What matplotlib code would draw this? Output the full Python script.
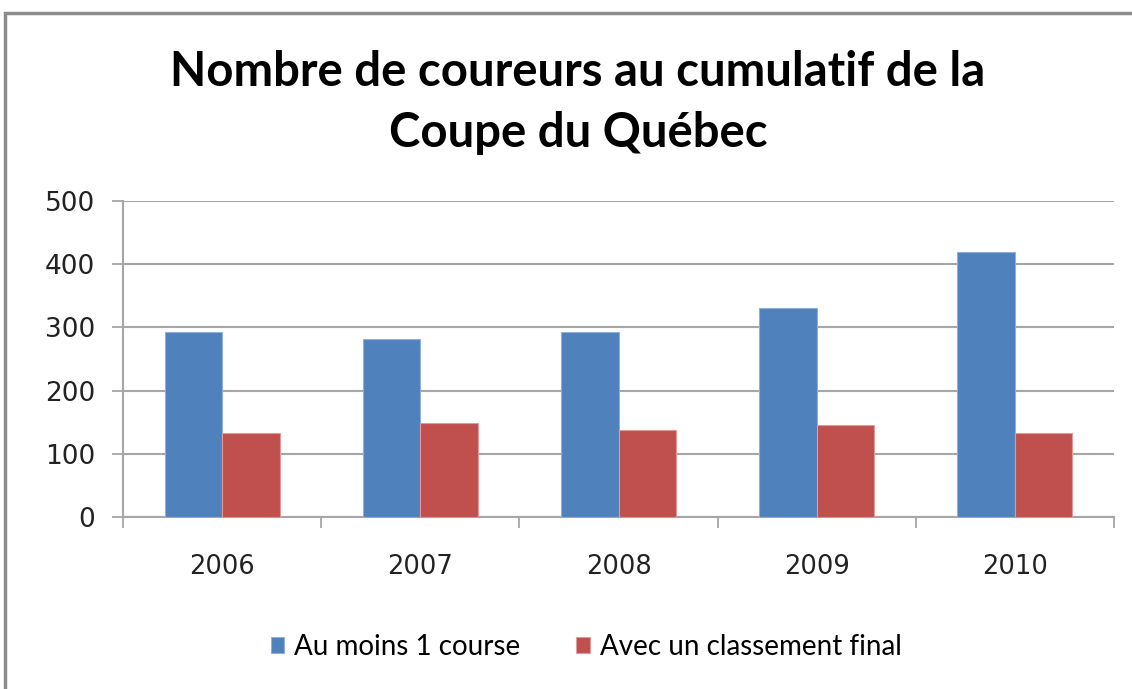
import matplotlib
matplotlib.use("Agg")
import matplotlib.pyplot as plt
from matplotlib.patches import Rectangle
import numpy as np

years = ["2006", "2007", "2008", "2009", "2010"]
au_moins_1 = [293, 281, 293, 330, 419]
classement_final = [133, 148, 137, 146, 133]
series_labels = ["Au moins 1 course", "Avec un classement final"]
yticks = [0, 100, 200, 300, 400, 500]

blue = "#4F81BD"
red = "#C0504D"
grid_c = "#A6A6A6"

W, H = 1132, 689
fig = plt.figure(figsize=(W / 100, H / 100), dpi=100)
ax = fig.add_axes([123 / W, 1 - 517 / H, (1114 - 123) / W, (517 - 201) / H])

x = np.arange(len(years))
bw = 0.29
ax.bar(x - bw / 2, au_moins_1, width=bw, color=blue, edgecolor="#8FB0DA", linewidth=0.8,
       label=series_labels[0], zorder=3)
ax.bar(x + bw / 2, classement_final, width=bw, color=red, edgecolor="#E29A98", linewidth=0.8,
       label=series_labels[1], zorder=3)

ax.set_xlim(-0.5, len(years) - 0.5)
ax.set_ylim(0, 500)
ax.set_yticks(yticks)
ax.set_yticklabels([str(v) for v in yticks], fontsize=19, family="DejaVu Sans", color="#222222")
ax.set_xticks(x)
ax.set_xticklabels(years, fontsize=18.5, family="DejaVu Sans", color="#222222")
ax.set_xticks(np.arange(-0.5, len(years)), minor=True)
ax.tick_params(axis="x", which="major", length=0, pad=27)
ax.tick_params(axis="x", which="minor", length=8, width=1.3, color=grid_c, direction="out")
ax.tick_params(axis="y", length=8, width=1.3, color=grid_c, pad=12)

ax.yaxis.grid(True, color=grid_c, linewidth=1.5, zorder=0)
ax.set_axisbelow(True)
for s in ["top", "right"]:
    ax.spines[s].set_visible(False)
for s in ["left", "bottom"]:
    ax.spines[s].set_color(grid_c)
    ax.spines[s].set_linewidth(1.5)

fig.text(578 / W, 1 - 72 / H, "Nombre de coureurs au cumulatif de la",
         ha="center", va="center", fontsize=34, fontweight="bold", family="Lato")
fig.text(578 / W, 1 - 133 / H, "Coupe du Québec",
         ha="center", va="center", fontsize=34, fontweight="bold", family="Lato")

leg = fig.legend(loc="center", bbox_to_anchor=(586 / W, 1 - 647 / H), ncol=2, frameon=False,
                 prop={"family": "Lato", "size": 20}, handlelength=0.5, handleheight=0.5,
                 handletextpad=0.35, columnspacing=2.0)

fig.patches.append(Rectangle((5 / W, -0.1), 1.2, (1 - 13 / H) + 0.1, transform=fig.transFigure,
                             fill=False, edgecolor="#8C8C8C", linewidth=2.5))

fig.savefig("out.png", dpi=100)
